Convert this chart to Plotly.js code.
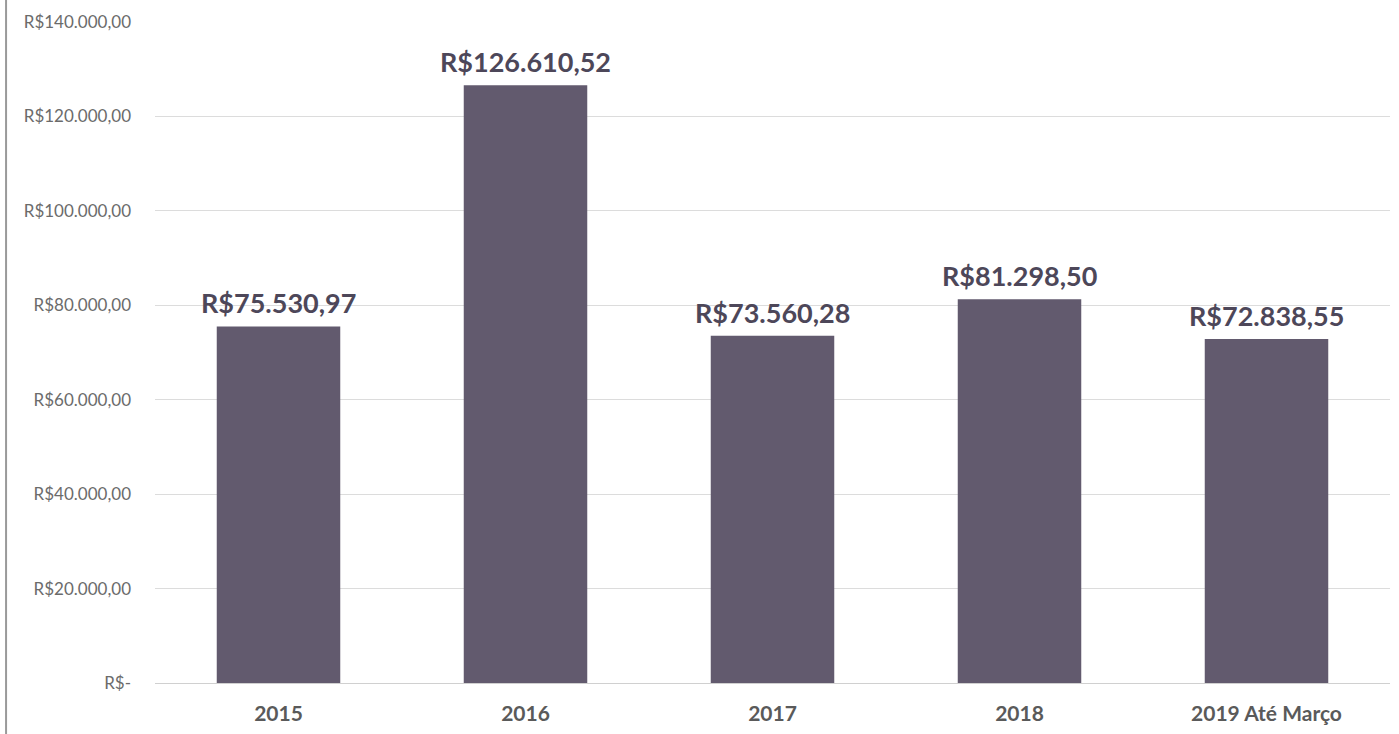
<!DOCTYPE html>
<html>
<head>
<meta charset="utf-8">
<script src="https://cdn.plot.ly/plotly-3.0.1.min.js"></script>
<style>html,body{margin:0;padding:0;background:#fff}#chart{width:1399px;height:734px}</style>
</head>
<body>
<div id="chart"></div>
<script>
const categories = ["2015", "2016", "2017", "2018", "2019 Até Março"];
const values = [75530.97, 126610.52, 73560.28, 81298.50, 72838.55];
const valueLabels = ["R$75.530,97", "R$126.610,52", "R$73.560,28", "R$81.298,50", "R$72.838,55"];
const tickVals = [0, 20000, 40000, 60000, 80000, 100000, 120000, 140000];
const tickText = ["R$-", "R$20.000,00", "R$40.000,00", "R$60.000,00", "R$80.000,00", "R$100.000,00", "R$120.000,00", "R$140.000,00"];

const trace = {
  type: "bar",
  x: categories,
  y: values,
  marker: {color: "#625a6e"},
  width: 0.5,
  hoverinfo: "skip"
};

const annotations = values.map((v, i) => ({
  x: i, y: v, xref: "x", yref: "y",
  text: valueLabels[i], showarrow: false,
  yanchor: "bottom", yshift: 5,
  font: {family: "Lato, 'Open Sans', sans-serif", size: 27, color: "#4d4759", weight: 700}
}));

const layout = {
  width: 1399, height: 734,
  margin: {l: 155, r: 9, t: 22, b: 51},
  paper_bgcolor: "#ffffff",
  plot_bgcolor: "#ffffff",
  showlegend: false,
  font: {family: "Lato, 'Open Sans', sans-serif", color: "#595959"},
  xaxis: {
    type: "category",
    categoryarray: categories,
    range: [-0.5, categories.length - 0.5],
    tickfont: {size: 21, color: "#5a5a5a", weight: 700},
    showgrid: false, zeroline: false, showline: false, ticks: "",
    ticklabelstandoff: 16
  },
  yaxis: {
    range: [0, 140000],
    tickvals: tickVals,
    ticktext: tickText,
    tickfont: {size: 17, color: "#6b6b6b"},
    showgrid: true, gridcolor: "#dcdcdc", gridwidth: 1,
    zeroline: true, zerolinecolor: "#d0d0d0", zerolinewidth: 1,
    showline: false, ticks: "", ticklen: 0,
    ticklabelstandoff: 23,
    automargin: false
  },
  annotations: annotations,
  shapes: [{
    type: "line", xref: "paper", yref: "paper",
    x0: -0.1206, x1: -0.1206, y0: -0.08, y1: 1.04,
    line: {color: "#9a9a9a", width: 2}
  }]
};

Plotly.newPlot("chart", [trace], layout, {displayModeBar: false, staticPlot: true});
</script>
</body>
</html>
